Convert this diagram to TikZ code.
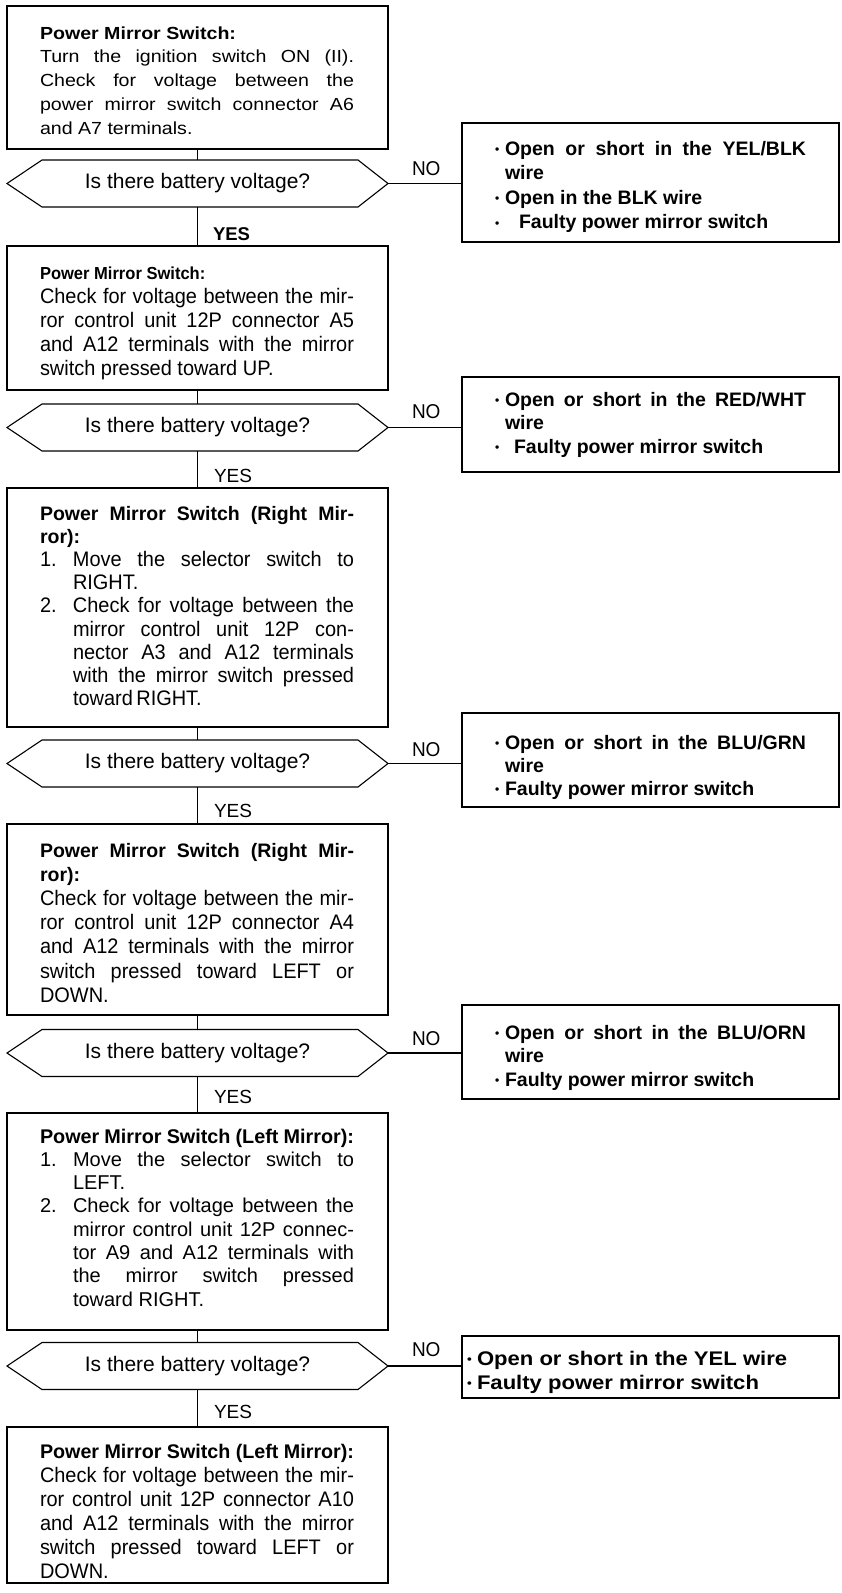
\documentclass[tikz,border=0pt]{standalone}
\usepackage{fontspec}
\setmainfont{Liberation Sans}
\newfontfamily\widefont[FakeStretch=1.12]{Liberation Sans}
\newfontfamily\condfont[FakeStretch=0.95]{Liberation Sans}
\hbadness=10000 \hfuzz=40pt \vbadness=10000
\newcommand{\jline}[1]{\hbox to\hsize{#1}}
\newcommand{\nline}[1]{\hbox to\hsize{#1\hfil}}
\newcommand{\jitem}[2]{\hbox to\hsize{\hbox to 33pt{#1\hfil}#2}}
\newcommand{\jhang}[1]{\hbox to\hsize{\hskip33pt #1}}
\newcommand{\nhang}[1]{\hbox to\hsize{\hskip33pt #1\hfil}}
\newcommand{\blk}[3]{\vtop{\hsize=#1 #2\lineskiplimit=-\maxdimen\lineskip=0pt #3}}
\newcommand{\bul}{\hbox to 10pt{\raisebox{1.5pt}{\fontsize{12}{12}\selectfont\textbullet}\hfil}}
\newcommand{\rjline}[1]{\hbox to\hsize{\bul #1}}
\newcommand{\rnline}[1]{\hbox to\hsize{\bul #1\hfil}}
\newcommand{\rhang}[1]{\hbox to\hsize{\hskip10pt #1\hfil}}
\tikzset{
  box/.style={draw, line width=1.1pt, minimum width=381pt, inner sep=0pt, outer sep=0pt},
  rbox/.style={draw, line width=1.1pt, minimum width=377pt, inner sep=0pt, outer sep=0pt},
  txt/.style={inner sep=0pt, outer sep=0pt, anchor=base west},
  dec/.style={inner sep=0pt, outer sep=0pt, minimum width=381pt, minimum height=47pt, font=\fontsize{21}{24}\selectfont},
  lab/.style={inner sep=0pt, outer sep=0pt, anchor=base west, font=\fontsize{19}{20}\selectfont},
  nolab/.style={inner sep=0pt, outer sep=0pt, anchor=base west, font=\condfont\fontsize{20}{20}\selectfont},
  link/.style={line width=1.1pt},
  hexa/.style={line width=1.1pt, line join=miter}
}
\newcommand{\hexagon}[1]{\draw[hexa] ([xshift=35pt]#1.north west) -- ([xshift=-30pt]#1.north east) -- (#1.east) -- ([xshift=-30pt]#1.south east) -- ([xshift=35pt]#1.south west) -- (#1.west) -- cycle;}
\begin{document}
\begin{tikzpicture}[x=1pt,y=-1pt]
\useasboundingbox (0,0) rectangle (842,1593);
% boxes
\node[box, minimum height=143pt] (b1) at (197.5,77.5) {};
\node[box, minimum height=144pt] (b2) at (197.5,318) {};
\node[box, minimum height=239pt] (b3) at (197.5,607.5) {};
\node[box, minimum height=191pt] (b4) at (197.5,919.5) {};
\node[box, minimum height=217pt] (b5) at (197.5,1221.5) {};
\node[box, minimum height=156pt] (b6) at (197.5,1505) {};
% decisions
\node[dec] (d1) at (197.5,183.5) {Is there battery voltage?};
\node[dec] (d2) at (197.5,427.5) {Is there battery voltage?};
\node[dec] (d3) at (197.5,763.5) {Is there battery voltage?};
\node[dec] (d4) at (197.5,1053) {Is there battery voltage?};
\node[dec] (d5) at (197.5,1366) {Is there battery voltage?};
\hexagon{d1}\hexagon{d2}\hexagon{d3}\hexagon{d4}\hexagon{d5}
% result boxes
\node[rbox, minimum height=119pt] (r1) at (650.5,182.5) {};
\node[rbox, minimum height=95pt] (r2) at (650.5,424.5) {};
\node[rbox, minimum height=94pt] (r3) at (650.5,760) {};
\node[rbox, minimum height=94pt] (r4) at (650.5,1052) {};
\node[rbox, minimum height=62pt] (r5) at (650.5,1367) {};
% connectors
\draw[link] (b1.south) -- (d1.north);
\draw[link] (d1.south) -- (b2.north);
\draw[link] (b2.south) -- (d2.north);
\draw[link] (d2.south) -- (b3.north);
\draw[link] (b3.south) -- (d3.north);
\draw[link] (d3.south) -- (b4.north);
\draw[link] (b4.south) -- (d4.north);
\draw[link] (d4.south) -- (b5.north);
\draw[link] (b5.south) -- (d5.north);
\draw[link] (d5.south) -- (b6.north);
\draw[link] (d1.east) -- (d1.east -| r1.west);
\draw[link] (d2.east) -- (d2.east -| r2.west);
\draw[link] (d3.east) -- (d3.east -| r3.west);
\draw[link] (d4.east) -- (d4.east -| r4.west);
\draw[link] (d5.east) -- (d5.east -| r5.west);
% labels
\node[lab, font=\fontsize{18.5}{20}\selectfont\bfseries] (y1) at (213,240) {YES};
\node[lab] (y2) at (214,482) {YES};
\node[lab] (y3) at (214,817) {YES};
\node[lab] (y4) at (214,1103) {YES};
\node[lab] (y5) at (214,1418) {YES};
\node[nolab] (n1) at (412,175) {NO};
\node[nolab] (n2) at (412,418) {NO};
\node[nolab] (n3) at (412,756) {NO};
\node[nolab] (n4) at (412,1045) {NO};
\node[nolab] (n5) at (412,1356) {NO};
% box texts
\node[txt] (t1) at (40,39) {\blk{314pt}{\widefont\fontsize{17.5}{23.75}\selectfont}{%
\nline{\bfseries Power Mirror Switch:}
\jline{Turn the ignition switch ON (II).}
\jline{Check for voltage between the}
\jline{power mirror switch connector A6}
\nline{and A7 terminals.}}};
\node[txt] (t2) at (40,279) {\blk{314pt}{\condfont\fontsize{21}{24}\selectfont}{%
\nline{\fontsize{17.4}{24}\selectfont\bfseries Power Mirror Switch:}
\jline{Check for voltage between the mir-}
\jline{ror control unit 12P connector A5}
\jline{and A12 terminals with the mirror}
\nline{switch pressed toward UP.}}};
\node[txt] (t3) at (40,520) {\blk{314pt}{\condfont\fontsize{21}{23.2}\selectfont}{%
\jline{\rmfamily\fontsize{19.5}{23.2}\selectfont\bfseries Power Mirror Switch (Right Mir-}
\nline{\rmfamily\fontsize{19.5}{23.2}\selectfont\bfseries ror):}
\jitem{1.}{Move the selector switch to}
\nhang{RIGHT.}
\jitem{2.}{Check for voltage between the}
\jhang{mirror control unit 12P con-}
\jhang{nector A3 and A12 terminals}
\jhang{with the mirror switch pressed}
\nhang{toward\,RIGHT.}}};
\node[txt] (t4) at (40,857) {\blk{314pt}{\condfont\fontsize{21}{24.2}\selectfont}{%
\jline{\rmfamily\fontsize{19.5}{24.2}\selectfont\bfseries Power Mirror Switch (Right Mir-}
\nline{\rmfamily\fontsize{19.5}{24.2}\selectfont\bfseries ror):}
\jline{Check for voltage between the mir-}
\jline{ror control unit 12P connector A4}
\jline{and A12 terminals with the mirror}
\jline{switch pressed toward LEFT or}
\nline{DOWN.}}};
\node[txt] (t5) at (40,1143) {\blk{314pt}{\fontsize{20}{23.3}\selectfont}{%
\nline{\fontsize{19.8}{23.3}\selectfont\bfseries Power Mirror Switch (Left Mirror):}
\jitem{1.}{Move the selector switch to}
\nhang{LEFT.}
\jitem{2.}{Check for voltage between the}
\jhang{mirror control unit 12P connec-}
\jhang{tor A9 and A12 terminals with}
\jhang{the mirror switch pressed}
\nhang{toward RIGHT.}}};
\node[txt] (t6) at (40,1458) {\blk{314pt}{\condfont\fontsize{21}{24}\selectfont}{%
\nline{\rmfamily\fontsize{19.7}{24}\selectfont\bfseries Power Mirror Switch (Left Mirror):}
\jline{Check for voltage between the mir-}
\jline{ror control unit 12P connector A10}
\jline{and A12 terminals with the mirror}
\jline{switch pressed toward LEFT or}
\nline{DOWN.}}};
% result texts
\node[txt] (rt1) at (495,155) {\blk{311pt}{\fontsize{19.5}{24.5}\selectfont\bfseries}{%
\rjline{Open or short in the YEL/BLK}
\rhang{wire}
\rnline{Open in the BLK wire}
\rnline{\hskip14pt Faulty power mirror switch}}};
\node[txt] (rt2) at (495,406) {\blk{311pt}{\fontsize{19.5}{23.5}\selectfont\bfseries}{%
\rjline{Open or short in the RED/WHT}
\rhang{wire}
\rnline{\hskip9pt Faulty power mirror switch}}};
\node[txt] (rt3) at (495,749) {\blk{311pt}{\fontsize{19.5}{23}\selectfont\bfseries}{%
\rjline{Open or short in the BLU/GRN}
\rhang{wire}
\rnline{Faulty power mirror switch}}};
\node[txt] (rt4) at (495,1039) {\blk{311pt}{\fontsize{19.5}{23.5}\selectfont\bfseries}{%
\rjline{Open or short in the BLU/ORN}
\rhang{wire}
\rnline{Faulty power mirror switch}}};
\node[txt] (rt5) at (467,1365) {\blk{340pt}{\widefont\fontsize{19.7}{24}\selectfont\bfseries}{%
\rnline{Open or short in the YEL wire}
\rnline{Faulty power mirror switch}}};
\end{tikzpicture}
\end{document}
